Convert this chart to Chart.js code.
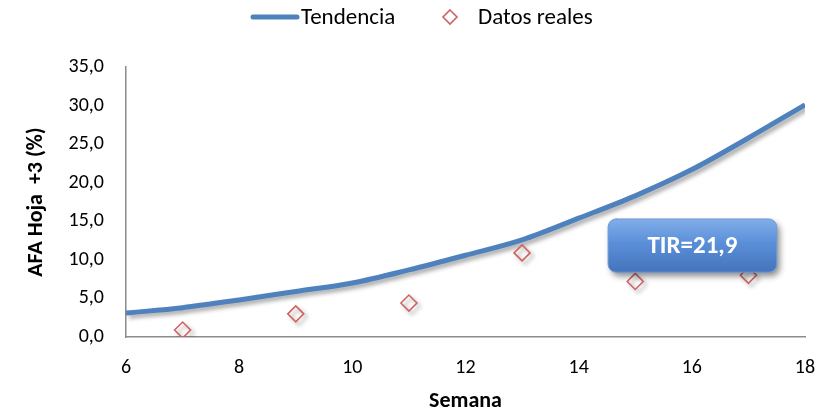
<!DOCTYPE html>
<html>
<head>
<meta charset="utf-8">
<script src="https://cdn.jsdelivr.net/npm/chart.js@4.4.1/dist/chart.umd.min.js"></script>
<style>
  html, body { margin: 0; padding: 0; background: #fff; }
  #wrap { width: 830px; height: 415px; }
</style>
</head>
<body>
<div id="wrap"><canvas id="myChart" width="830" height="415"></canvas></div>
<script>
// Datos
const semanasTend = [6, 7, 8, 9, 10, 11, 12, 13, 14, 15, 16, 17, 18];
const tendencia = [3.1, 3.8, 4.8, 5.9, 7.0, 8.7, 10.6, 12.6, 15.4, 18.3, 21.7, 25.8, 30.1];
const semanasReales = [7, 9, 11, 13, 15, 17];
const datosReales = [0.9, 3.0, 4.4, 10.9, 7.2, 8.0];
const yTicks = [0, 5, 10, 15, 20, 25, 30, 35];
const tirTexto = "TIR=21,9";

const FONT = "Carlito, Calibri, Lato, 'Open Sans', sans-serif";
const lineColor = "#4f81bd";
const pointColor = "#d06262";

// sombra suave para linea y puntos
const shadowPlugin = {
    id: "shadow",
    beforeDatasetsDraw(chart) {
        const ctx = chart.ctx;
        ctx.save();
        ctx.shadowColor = "rgba(0,0,0,0.35)";
        ctx.shadowBlur = 4;
        ctx.shadowOffsetX = 3;
        ctx.shadowOffsetY = 3;
    },
    afterDatasetsDraw(chart) {
        chart.ctx.restore();
    }
};

// leyenda y recuadro TIR
const extrasPlugin = {
    id: "extras",
    afterDraw(chart) {
        const ctx = chart.ctx;
        ctx.save();

        // leyenda
        ctx.strokeStyle = lineColor;
        ctx.lineWidth = 5;
        ctx.lineCap = "round";
        ctx.beginPath();
        ctx.moveTo(253, 17);
        ctx.lineTo(297, 17);
        ctx.stroke();
        ctx.fillStyle = "#000";
        ctx.font = "23px " + FONT;
        ctx.textBaseline = "middle";
        ctx.fillText("Tendencia", 301, 18);

        ctx.strokeStyle = pointColor;
        ctx.lineWidth = 1.6;
        ctx.beginPath();
        ctx.moveTo(450, 10);
        ctx.lineTo(457, 17);
        ctx.lineTo(450, 24);
        ctx.lineTo(443, 17);
        ctx.closePath();
        ctx.stroke();
        ctx.fillText("Datos reales", 478, 18);

        // recuadro TIR en coordenadas de datos
        const xs = chart.scales.x, ys = chart.scales.y;
        const x0 = xs.getPixelForValue(14.52), x1 = xs.getPixelForValue(17.5);
        const y0 = ys.getPixelForValue(15.3), y1 = ys.getPixelForValue(8.4);
        ctx.shadowColor = "rgba(0,0,0,0.45)";
        ctx.shadowBlur = 6;
        ctx.shadowOffsetX = 3;
        ctx.shadowOffsetY = 4;
        const g = ctx.createLinearGradient(0, y0, 0, y1);
        g.addColorStop(0, "#82aeea");
        g.addColorStop(0.45, "#5a8fd8");
        g.addColorStop(1, "#4474bb");
        ctx.fillStyle = g;
        ctx.beginPath();
        ctx.roundRect(x0, y0, x1 - x0, y1 - y0, 8);
        ctx.fill();
        ctx.shadowColor = "transparent";
        ctx.strokeStyle = "#6f9ad8";
        ctx.lineWidth = 1;
        ctx.stroke();
        ctx.fillStyle = "#fff";
        ctx.font = "bold 25px " + FONT;
        ctx.textAlign = "center";
        ctx.fillText(tirTexto, (x0 + x1) / 2, (y0 + y1) / 2 + 1);

        ctx.restore();
    }
};

const ctx = document.getElementById("myChart").getContext("2d");
new Chart(ctx, {
    type: "scatter",
    data: {
        datasets: [
            {
                label: "Tendencia",
                type: "line",
                data: semanasTend.map((s, i) => ({ x: s, y: tendencia[i] })),
                borderColor: lineColor,
                borderWidth: 5,
                pointRadius: 0,
                tension: 0.4,
                cubicInterpolationMode: "monotone",
                fill: false,
                order: 2
            },
            {
                label: "Datos reales",
                data: semanasReales.map((s, i) => ({ x: s, y: datosReales[i] })),
                pointStyle: "rectRot",
                pointRadius: 8,
                borderColor: pointColor,
                borderWidth: 1.6,
                backgroundColor: "rgba(255,255,255,0)",
                order: 1
            }
        ]
    },
    options: {
        responsive: false,
        animation: false,
        layout: { padding: { top: 67, right: 0, left: 23, bottom: 0 } },
        plugins: {
            legend: { display: false },
            tooltip: { enabled: false }
        },
        scales: {
            x: {
                type: "linear",
                min: 6,
                max: 18,
                afterFit(axis) {
                    axis.height = 78;
                    axis.paddingRight = 25;
                },
                grid: { display: false, drawTicks: false },
                border: { color: "#8c8c8c", width: 1.5 },
                ticks: {
                    stepSize: 2,
                    padding: 19,
                    color: "#000",
                    font: { family: FONT, size: 20 }
                },
                title: {
                    display: true,
                    text: "Semana",
                    color: "#000",
                    font: { family: FONT, size: 22, weight: "bold" },
                    padding: 0
                }
            },
            y: {
                min: 0,
                max: 35,
                afterBuildTicks(axis) {
                    axis.ticks = yTicks.map(v => ({ value: v }));
                },
                afterFit(axis) {
                    axis.width = 103;
                },
                grid: { display: false, drawTicks: false },
                border: { color: "#8c8c8c", width: 1.5 },
                ticks: {
                    padding: 22,
                    color: "#000",
                    font: { family: FONT, size: 20 },
                    callback: v => v.toFixed(1).replace(".", ",")
                },
                title: {
                    display: true,
                    text: "AFA Hoja  +3 (%)",
                    color: "#000",
                    font: { family: FONT, size: 22, weight: "bold" },
                    padding: 0
                }
            }
        }
    },
    plugins: [shadowPlugin, extrasPlugin]
});
</script>
</body>
</html>
